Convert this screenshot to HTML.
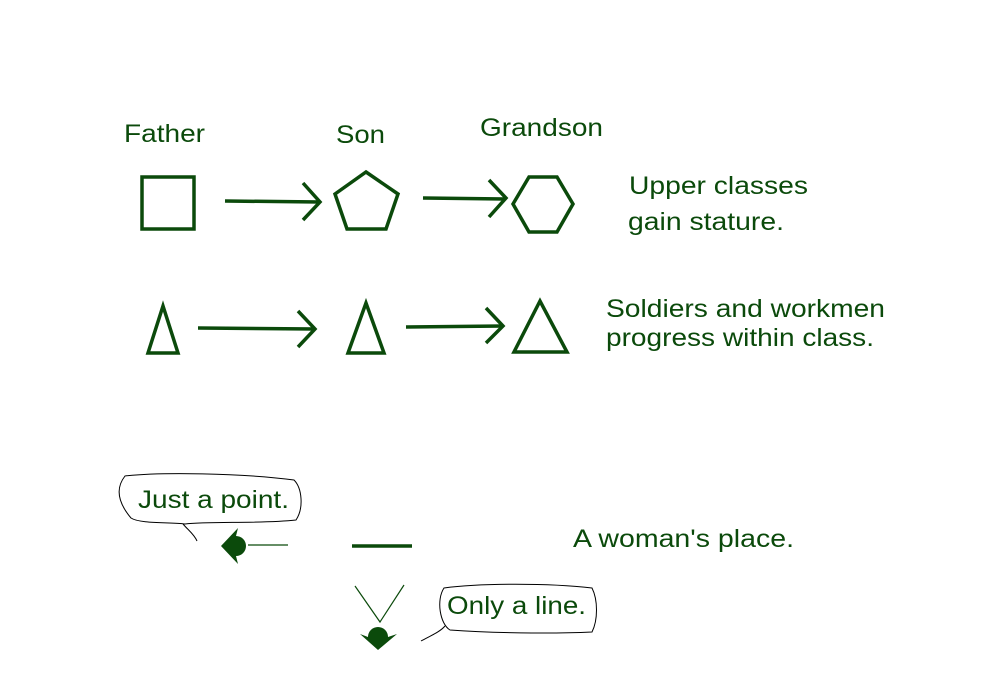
<!DOCTYPE html>
<html><head><meta charset="utf-8"><style>
html,body{margin:0;padding:0;background:#fff;}
svg{display:block;}
text{font-family:"Liberation Sans",sans-serif;font-size:25px;fill:#0b4a0b;}
</style></head><body>
<svg width="1000" height="700" viewBox="0 0 1000 700">
<rect width="1000" height="700" fill="#fff"/>
<g fill="none" stroke="#0b4a0b" stroke-width="3.5" stroke-linejoin="miter">
<rect x="142" y="177" width="52" height="52"/>
<line x1="225" y1="201" x2="320" y2="202"/>
<polyline points="303,183 320,202 303,220"/>
<polygon points="366,172 398,194 386,229 347,229 335,194"/>
<line x1="423" y1="198" x2="505" y2="199"/>
<polyline points="489,180 506,198 489,217"/>
<polygon points="513,204 529,177 557,177 573,204 557,232 529,232"/>
<polygon points="163,306 148,353 178,353"/>
<polygon points="366,303 348,353 384,353"/>
<polygon points="540,301 514,352 567,352"/>
<line x1="198" y1="328" x2="315" y2="329"/>
<polyline points="298,311 315,329 298,347"/>
<line x1="406" y1="327" x2="503" y2="326"/>
<polyline points="486,308 503,326 486,343"/>
<line x1="352" y1="546" x2="412" y2="546"/>
</g>
<g stroke="#0b4a0b" stroke-width="1.2" fill="none">
<line x1="248" y1="545" x2="288" y2="545"/>
<polyline points="355,586 380,622 404,585"/>
</g>
<path d="M238,528 L221,546 L238,564 L236,556 A10,10 0 0 0 236,536 Z" fill="#0b4a0b"/>
<path d="M360,634 L378,650 L397,634 L388,637 A10,10 0 0 0 368,637 Z" fill="#0b4a0b"/>
<g stroke="#000" stroke-width="1" fill="none">
<path d="M125,476 C160,472 240,473 294,480 C302,488 304,508 296,520 C260,524 210,521 185,524 C170,522 140,524 131,518 C120,505 114,490 125,476 Z"/>
<path d="M183,524 C188,530 194,534 197,541"/>
<path d="M444,588 C480,583 550,583 592,588 C598,600 598,620 592,632 C550,634 490,633 450,630 C440,624 436,600 444,588 Z"/>
<path d="M445,626 C440,632 430,636 421,641"/>
</g>
<g lengthAdjust="spacingAndGlyphs">
<text x="124" y="142" textLength="81" lengthAdjust="spacingAndGlyphs">Father</text>
<text x="336" y="143" textLength="49" lengthAdjust="spacingAndGlyphs">Son</text>
<text x="480" y="136" textLength="123" lengthAdjust="spacingAndGlyphs">Grandson</text>
<text x="629" y="194" textLength="179" lengthAdjust="spacingAndGlyphs">Upper classes</text>
<text x="628" y="230" textLength="156" lengthAdjust="spacingAndGlyphs">gain stature.</text>
<text x="606" y="317" textLength="279" lengthAdjust="spacingAndGlyphs">Soldiers and workmen</text>
<text x="606" y="346" textLength="268" lengthAdjust="spacingAndGlyphs">progress within class.</text>
<text x="138" y="508" textLength="151" lengthAdjust="spacingAndGlyphs">Just a point.</text>
<text x="573" y="547" textLength="221" lengthAdjust="spacingAndGlyphs">A woman's place.</text>
<text x="447" y="614" textLength="139" lengthAdjust="spacingAndGlyphs">Only a line.</text>
</g>
</svg>
</body></html>
